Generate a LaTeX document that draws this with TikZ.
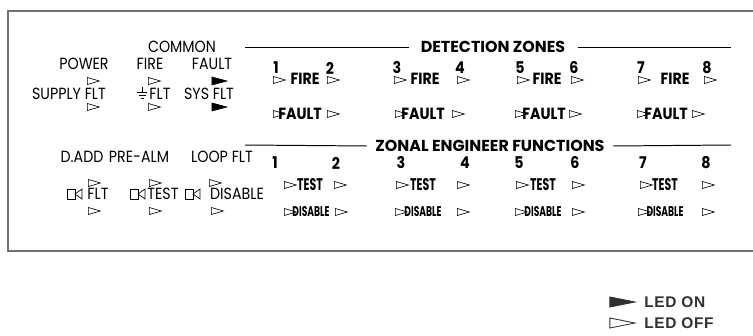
\documentclass[tikz,border=0pt]{standalone}
\usepackage{fontspec}
\setmainfont[FakeStretch=0.88]{Poppins}
\newfontfamily\headfont{Poppins}
\newfontfamily\narrowfont[FakeStretch=0.65]{Poppins}
\newfontfamily\legendfont[LetterSpace=4]{Liberation Sans}
\usetikzlibrary{shapes.geometric}

\definecolor{framegray}{HTML}{707070}
\definecolor{legendgray}{HTML}{303030}

\begin{document}
\begin{tikzpicture}[x=0.025cm, y=-0.025cm,
    lbl/.style={font=\fontsize{11.5}{11.5}\selectfont, inner sep=0pt},
    zlbl/.style={font=\fontsize{11.5}{11.5}\selectfont\bfseries, inner sep=0pt},
    hdr/.style={font=\headfont\fontsize{11.3}{11.3}\selectfont\bfseries, inner sep=0pt},
    ztest/.style={font=\narrowfont\fontsize{12}{12}\selectfont\bfseries, inner sep=0pt},
    zsmall/.style={font=\narrowfont\fontsize{10}{10}\selectfont\bfseries, inner sep=0pt},
    legend/.style={font=\legendfont\fontsize{11}{11}\selectfont\bfseries, text=legendgray, inner sep=0pt, anchor=west},
    ledoff/.style={isosceles triangle, isosceles triangle stretches, draw, line width=0.45pt,
        minimum height=0.3cm, minimum width=0.175cm, inner sep=0pt, outer sep=0pt},
    ledon/.style={ledoff, fill=black, minimum height=0.375cm, minimum width=0.2cm},
    keyled/.style={minimum height=0.625cm, minimum width=0.25cm, draw=legendgray, line width=0.6pt}]

    \useasboundingbox (0,0) rectangle (753,335);

    % panel frame, open on the right
    \draw[framegray, line width=1pt] (753,11) -- (8,11) -- (8,251) -- (753,251);

    % common indicators
    \node[lbl] (common) at (182,47) {COMMON};
    \node[lbl] (power) at (84,64) {POWER};
    \node[lbl] (fire) at (150,64) {FIRE};
    \node[lbl] (fault) at (212,64) {FAULT};
    \node[ledoff] (powerled) at (90,81) {};
    \node[ledoff] (fireled) at (151,81) {};
    \node[ledon] (faultled) at (215,81) {};
    \node[lbl] (supply) at (69,94) {SUPPLY FLT};
    \node[lbl] (earth) at (160,94) {FLT};
    \node[lbl] (sysflt) at (209,94) {SYS FLT};
    \node[ledoff] (supplyled) at (90,107) {};
    \node[ledoff] (earthled) at (151,107) {};
    \node[ledon] (sysled) at (215,107) {};
    % earth symbol
    \draw[line width=0.5pt] (142,87) -- (142,92) (137,92) -- (147,92)
        (138.5,95) -- (145.5,95) (140.5,98) -- (143.5,98);

    % loop indicators
    \node[lbl] (dadd) at (82,157) {D.ADD};
    \node[lbl] (prealm) at (139,157) {PRE-ALM};
    \node[lbl] (loopflt) at (222,157) {LOOP FLT};
    \node[ledoff] (daddled) at (91,183) {};
    \node[ledoff] (prealmled) at (152,183) {};
    \node[ledoff] (loopled) at (212,183) {};
    \foreach \bx/\tx/\txt/\nm in {67/98/FLT/sfault, 130/163/TEST/stest, 185/237/DISABLE/sdisable} {
        \draw[line width=0.5pt] (\bx,189) rectangle (\bx+8,199);
        \draw[line width=0.5pt] (\bx+15,189) -- (\bx+8,194) -- (\bx+15,199) -- cycle;
        \node[lbl] (\nm) at (\tx,194) {\txt};
    }
    \node[ledoff] (sfaultled) at (91,211) {};
    \node[ledoff] (stestled) at (152,211) {};
    \node[ledoff] (sdisableled) at (214,211) {};

    % detection zones
    \node[hdr, inner xsep=0.3cm] (detect) at (493,47) {DETECTION ZONES};
    \coordinate (detectL) at (245,47);
    \coordinate (detectR) at (731,47);
    \draw[line width=0.7pt] (detectL) -- (detect.west) (detect.east) -- (detectR);
    \foreach \n/\a/\f/\b/\m in {1/276/305/330/2, 3/397/425/460/4, 5/520/547/574/6, 7/641/675/707/8} {
        \node[zlbl] (dnum\n) at (\a,68) {\n};
        \node[ledoff] (fire\n) at (\a,80) {};
        \node[zlbl] (zfire\n) at (\f,79) {FIRE};
        \node[zlbl] (dnum\m) at (\b,68) {\m};
        \node[ledoff] (fire\m) at (\b,80) {};
    }
    \foreach \n/\a/\f/\b/\m in {1/276/300/330/2, 3/398/423/455/4, 5/518/544/572/6, 7/640/666/695/8} {
        \node[ledoff] (flt\n) at (\a,114) {};
        \node[zlbl] (zfault\n) at (\f,114) {FAULT};
        \node[ledoff] (flt\m) at (\b,114) {};
    }

    % zonal engineer functions
    \node[hdr, inner xsep=0.2cm] (zonal) at (490,146) {ZONAL ENGINEER FUNCTIONS};
    \coordinate (zonalL) at (245,145);
    \coordinate (zonalR) at (731,145);
    \draw[line width=0.7pt] (zonalL) -- (zonal.west) (zonal.east) -- (zonalR);
    \foreach \n/\a/\b/\m in {1/275/336/2, 3/401/465/4, 5/519/575/6, 7/643/706/8} {
        \node[zlbl] (znum\n) at (\a,163) {\n};
        \node[zlbl] (znum\m) at (\b,163) {\m};
    }
    \foreach \n/\a/\f/\b/\m in {1/287/310/337/2, 3/399/423/460/4, 5/519/543/575/6, 7/643/665/705/8} {
        \node[ledoff] (tst\n) at (\a,185) {};
        \node[ztest] (ztest\n) at (\f,185) {TEST};
        \node[ledoff] (tst\m) at (\b,185) {};
    }
    \foreach \n/\a/\f/\b/\m in {1/287/311/338/2, 3/398/423/460/4, 5/518/543/575/6, 7/641/665/705/8} {
        \node[ledoff] (dis\n) at (\a,212) {};
        \node[zsmall] (zdisable\n) at (\f,212) {DISABLE};
        \node[ledoff] (dis\m) at (\b,212) {};
    }

    % key
    \node[ledon, keyled, fill=legendgray] (onkey) at (614,302) {};
    \node[legend] (ontext) at (644,302) {LED ON};
    \node[ledoff, keyled] (offkey) at (614,323) {};
    \node[legend] (offtext) at (644,323) {LED OFF};
\end{tikzpicture}
\end{document}
